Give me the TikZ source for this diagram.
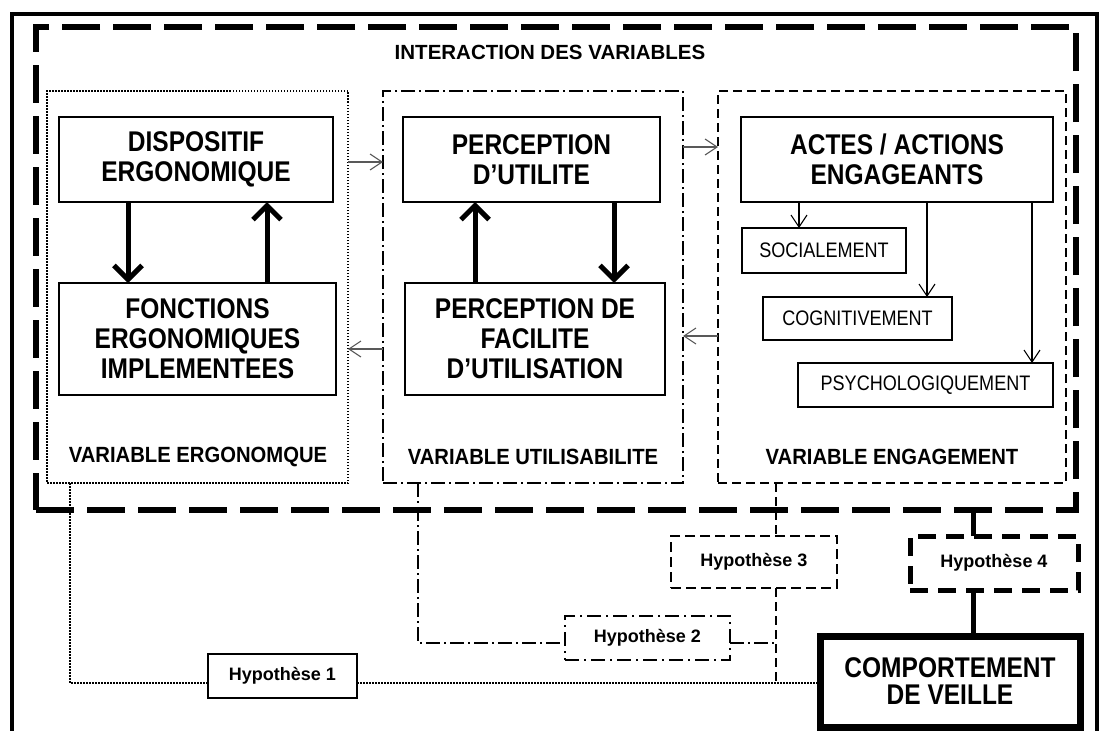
\documentclass[tikz,border=0pt]{standalone}
\usepackage{fontspec}
\setmainfont{Liberation Sans}
\newfontfamily\narrowfont{Liberation Sans}[FakeStretch=0.86]
\newfontfamily\labfont{Liberation Sans}[FakeStretch=0.92]
\usetikzlibrary{arrows.meta}
\tikzset{
  mainbox/.style={draw, line width=1.2pt, anchor=north west, outer sep=0pt, inner sep=0pt, align=center,
    font=\narrowfont\bfseries\fontsize{28.5}{30}\selectfont},
  subbox/.style={draw, line width=1.1pt, anchor=north west, outer sep=0pt, inner sep=0pt, align=center,
    font=\narrowfont\fontsize{21}{24}\selectfont},
  panelbase/.style={anchor=north west, outer sep=0pt, inner sep=0pt},
  dotline/.style={line width=1.6pt, dash pattern=on 1.5pt off 1.5pt},
  dashdotline/.style={line width=1.6pt, dash pattern=on 14pt off 4pt on 2pt off 4pt},
  dashline/.style={line width=1.8pt, dash pattern=on 9pt off 5pt},
  panellabel/.style={font=\labfont\bfseries\fontsize{22}{24}\selectfont, inner sep=0pt},
  hypbox/.style={anchor=north west, outer sep=0pt, inner sep=0pt, font=\bfseries\fontsize{18}{20}\selectfont},
  thinarrow/.style={line width=1.1pt, -{Straight Barb[length=12pt,width=16pt]}},
  greyarrow/.style={thinarrow, draw=black!65},
  fatarrow/.style={line width=5pt, -{Straight Barb[length=14pt,width=28pt]}},
}
\begin{document}
\begin{tikzpicture}[x=1pt,y=-1pt]
\useasboundingbox (0,0) rectangle (1106,731);
% outer solid frame (bottom edge off the page)
\draw[line width=4.5pt] (12,736) -- (12,14) -- (1097,14) -- (1097,736);
% big dashed frame
\node[panelbase, draw, line width=6pt, dash pattern=on 38pt off 13pt, minimum width=1040pt, minimum height=483pt] (frame) at (36,27) {};
\node[font=\bfseries\fontsize{20.5}{22}\selectfont, inner sep=0pt] (title) at (550,52) {INTERACTION DES VARIABLES};
% panels
\node[panelbase, draw, dotline, minimum width=301pt, minimum height=392pt] (panel1) at (47,91) {};
\node[panelbase, draw, dashdotline, minimum width=300pt, minimum height=392pt] (panel2) at (383,91) {};
\node[panelbase, draw, dashline, minimum width=348pt, minimum height=392pt] (panel3) at (718,91) {};
\node[panellabel] (lab1) at (198,457) {VARIABLE ERGONOMQUE};
\node[panellabel] (lab2) at (533,457) {VARIABLE UTILISABILITE};
\node[panellabel] (lab3) at (892,457) {VARIABLE ENGAGEMENT};
% main boxes
\node[mainbox, minimum width=274pt, minimum height=85pt] (dispo) at (59,117) {DISPOSITIF\\ERGONOMIQUE};
\node[mainbox, minimum width=277pt, minimum height=112pt] (fonct) at (59,283) {FONCTIONS\\ERGONOMIQUES\\IMPLEMENTEES};
\node[mainbox, minimum width=257pt, minimum height=85pt] (putil) at (403,117) {PERCEPTION\\D’UTILITE};
\node[mainbox, minimum width=260pt, minimum height=112pt] (pfac) at (405,283) {PERCEPTION DE\\FACILITE\\D’UTILISATION};
\node[mainbox, minimum width=312pt, minimum height=85pt] (actes) at (741,117) {ACTES / ACTIONS\\ENGAGEANTS};
\node[subbox, minimum width=164pt, minimum height=45pt] (soc) at (742,228) {SOCIALEMENT};
\node[subbox, minimum width=189pt, minimum height=43pt] (cog) at (763,297) {COGNITIVEMENT};
\node[subbox, minimum width=255pt, minimum height=44pt] (psy) at (798,363) {PSYCHOLOGIQUEMENT};
% hypothesis boxes
\node[hypbox, draw, line width=2pt, minimum width=149pt, minimum height=44pt] (hyp1) at (208,654) {Hypothèse 1};
\node[hypbox, draw, line width=2.4pt, dash pattern=on 14pt off 5pt on 2pt off 5pt, minimum width=165pt, minimum height=44pt] (hyp2) at (565,616) {Hypothèse 2};
\node[hypbox, draw, line width=2.2pt, dash pattern=on 10pt off 5pt, minimum width=166pt, minimum height=52pt] (hyp3) at (671,536) {Hypothèse 3};
\node[hypbox, draw, line width=5pt, dash pattern=on 18pt off 10pt, minimum width=168pt, minimum height=54pt] (hyp4) at (910,536) {Hypothèse 4};
\node[mainbox, line width=7pt, minimum width=260pt, minimum height=91pt, font=\narrowfont\bfseries\fontsize{28.5}{27}\selectfont] (comp) at (820,636) {COMPORTEMENT\\DE VEILLE};
% guide coordinates
\coordinate (xa) at (128,0);
\coordinate (xb) at (267,0);
\coordinate (xc) at (475,0);
\coordinate (xd) at (614,0);
\coordinate (xs) at (799,0);
\coordinate (xg) at (927,0);
\coordinate (xp) at (1032,0);
\coordinate (xh1) at (70,0);
\coordinate (xh2) at (418,0);
\coordinate (xh3) at (776,0);
\coordinate (xh4) at (973,0);
\coordinate (y12) at (0,162);
\coordinate (y23) at (0,147);
\coordinate (y32) at (0,336);
\coordinate (y21) at (0,349);
\coordinate (yb) at (0,683);
\coordinate (yh2) at (0,643);
% thick arrows
\draw[fatarrow] (xa |- dispo.south) -- (xa |- fonct.north);
\draw[fatarrow] (xb |- fonct.north) -- (xb |- dispo.south);
\draw[fatarrow] (xc |- pfac.north) -- (xc |- putil.south);
\draw[fatarrow] (xd |- putil.south) -- (xd |- pfac.north);
% panel-to-panel arrows
\draw[greyarrow] (panel1.east |- y12) -- (panel2.west |- y12);
\draw[greyarrow] (panel2.east |- y23) -- (panel3.west |- y23);
\draw[greyarrow] (panel3.west |- y32) -- (panel2.east |- y32);
\draw[greyarrow] (panel2.west |- y21) -- (panel1.east |- y21);
% engagement arrows
\draw[thinarrow] (xs |- actes.south) -- (xs |- soc.north);
\draw[thinarrow] (xg |- actes.south) -- (xg |- cog.north);
\draw[thinarrow] (xp |- actes.south) -- (xp |- psy.north);
% hypothesis connectors
\draw[dotline, line width=1.5pt] (xh1 |- panel1.south) -- (xh1 |- yb) -- (hyp1.west |- yb);
\draw[dotline, line width=1.5pt] (hyp1.east |- yb) -- (comp.west |- yb);
\draw[dashdotline, line width=1.5pt] (xh2 |- panel2.south) -- (xh2 |- yh2) -- (hyp2.west |- yh2);
\draw[dashdotline, line width=1.5pt] (hyp2.east |- yh2) -- (xh3 |- yh2);
\draw[dashline, line width=1.5pt] (xh3 |- panel3.south) -- (xh3 |- hyp3.north);
\draw[dashline, line width=1.5pt] (xh3 |- hyp3.south) -- (xh3 |- yb);
\draw[line width=5pt] (xh4 |- frame.south) -- (xh4 |- hyp4.north);
\draw[line width=5pt] (xh4 |- hyp4.south) -- (xh4 |- comp.north);
\end{tikzpicture}
\end{document}
